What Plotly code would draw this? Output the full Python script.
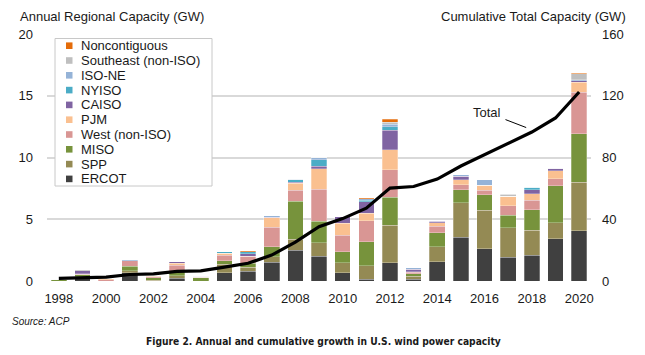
import plotly.graph_objects as go

years = list(range(1998, 2021))

regions = ["ERCOT", "SPP", "MISO", "West (non-ISO)", "PJM", "CAISO", "NYISO",
           "ISO-NE", "Southeast (non-ISO)", "Noncontiguous"]

ercot = [0, 0.30, 0, 0.68, 0, 0.22, 0, 0.67, 0.80, 1.53, 2.50, 2.00, 0.65, 0.16, 1.48, 0.13, 1.56, 3.55, 2.61, 1.94, 2.10, 3.44, 4.08]
spp = [0, 0.05, 0, 0.15, 0.05, 0.19, 0, 0.67, 0.30, 0.44, 0.89, 1.08, 0.84, 1.07, 3.03, 0.27, 1.21, 2.77, 3.11, 2.37, 1.99, 1.26, 3.90]
miso = [0.10, 0.15, 0, 0.38, 0.20, 0.40, 0.25, 0.32, 0.32, 0.82, 3.06, 1.75, 0.86, 1.96, 2.26, 0.20, 1.13, 1.08, 1.26, 1.02, 1.69, 3.03, 3.95]
west = [0.05, 0.05, 0.10, 0.45, 0.10, 0.48, 0.05, 0.43, 0.60, 1.58, 0.88, 2.58, 1.36, 1.69, 2.23, 0.10, 0.54, 0.40, 0.35, 0.78, 0.75, 0.54, 3.36]
pjm = [0, 0.05, 0.07, 0, 0.05, 0.13, 0, 0.16, 0, 0.75, 0.60, 1.69, 0.95, 0.59, 1.61, 0.05, 0.27, 0.40, 0.43, 0.75, 0.54, 0.67, 0.81]
caiso = [0, 0.25, 0, 0, 0.03, 0.13, 0.08, 0, 0.19, 0.05, 0.05, 0.19, 0.54, 0.94, 1.61, 0.20, 0.13, 0.27, 0, 0, 0.33, 0.19, 0.10]
nyiso = [0, 0, 0, 0, 0, 0, 0, 0.13, 0.16, 0, 0.22, 0.54, 0, 0.13, 0.27, 0, 0, 0, 0, 0, 0.20, 0, 0]
isone = [0, 0, 0, 0.06, 0, 0, 0, 0, 0, 0.10, 0.05, 0.13, 0, 0.13, 0.20, 0.13, 0.05, 0.13, 0.43, 0, 0, 0, 0.10]
southeast = [0, 0.05, 0, 0, 0, 0, 0, 0, 0, 0, 0, 0, 0, 0, 0.15, 0, 0, 0, 0, 0.15, 0, 0, 0.48]
noncontig = [0, 0, 0, 0, 0, 0, 0, 0, 0.08, 0, 0, 0, 0, 0.08, 0.27, 0, 0, 0, 0, 0, 0, 0, 0.05]

cumulative = [1.7, 2.3, 2.5, 4.2, 4.6, 6.2, 6.6, 9.0, 11.5, 16.8, 25.2, 35.2, 40.4, 47.2, 60.2,
              61.2, 66.0, 74.5, 82.0, 89.0, 96.5, 105.6, 122.4]

series = [ercot, spp, miso, west, pjm, caiso, nyiso, isone, southeast, noncontig]
colors = ["#404040", "#948a54", "#77933c", "#d99694", "#fac090", "#8064a2",
          "#4bacc6", "#95b3d7", "#bfbfbf", "#e46c0a"]

left_ticks = [0, 5, 10, 15, 20]
right_ticks = [0, 40, 80, 120, 160]
x_ticks = list(range(1998, 2021, 2))

FONT = "Liberation Sans, Arial, sans-serif"
TXT = "#1a1a1a"

fig = go.Figure()
for name, vals, col in zip(regions, series, colors):
    fig.add_trace(go.Bar(x=years, y=vals, name=name, width=0.66,
                         marker=dict(color=col, line=dict(color="rgba(255,255,255,0.45)", width=0.6)),
                         showlegend=False))

fig.add_trace(go.Scatter(x=years, y=cumulative, yaxis="y2", mode="lines", name="Total",
                         line=dict(color="black", width=3.2), showlegend=False))

# page pixel geometry (the page body has an 8px margin)
OFF = 8
W, H = 645 - OFF, 355 - OFF
PL, PR, PT, PB = 47, 591, 34, 281


def xp(px):
    return (px - PL) / (PR - PL)


def yp(py):
    return (PB - py) / (PB - PT)


shapes = []
annotations = []

# Manual legend (top-to-bottom order)
shapes.append(dict(type="rect", xref="paper", yref="paper", x0=xp(55), x1=xp(212),
                   y0=yp(186), y1=yp(38.5), fillcolor="white",
                   line=dict(color="#c8c8c8", width=1), layer="above"))
leg_names = regions[::-1]
leg_cols = colors[::-1]
for i, (nm, col) in enumerate(zip(leg_names, leg_cols)):
    yc = 45.7 + i * 14.8
    shapes.append(dict(type="rect", xref="paper", yref="paper", x0=xp(66), x1=xp(72.5),
                       y0=yp(yc + 3.3), y1=yp(yc - 3.3), fillcolor=col, line=dict(width=0),
                       layer="above"))
    annotations.append(dict(xref="paper", yref="paper", x=xp(78.5), y=yp(yc), text=nm,
                            showarrow=False, xanchor="left", yanchor="middle",
                            font=dict(size=13, color=TXT, family=FONT)))

annotations += [
    dict(xref="paper", yref="paper", x=xp(18), y=yp(17), text="Annual Regional Capacity (GW)",
         showarrow=False, xanchor="left", yanchor="middle", font=dict(size=13, color=TXT, family=FONT)),
    dict(xref="paper", yref="paper", x=xp(628), y=yp(17), text="Cumulative Total Capacity (GW)",
         showarrow=False, xanchor="right", yanchor="middle", font=dict(size=13, color=TXT, family=FONT)),
    dict(xref="paper", yref="paper", x=xp(10), y=yp(321), text="<i>Source: ACP</i>",
         showarrow=False, xanchor="left", yanchor="middle", font=dict(size=10, color=TXT, family=FONT)),
    dict(xref="paper", yref="paper", x=xp(323), y=yp(341),
         text="<b>Figure 2. Annual and cumulative growth in U.S. wind power capacity</b>",
         showarrow=False, xanchor="center", yanchor="middle",
         font=dict(size=10.2, color=TXT, family="Liberation Sans Narrow, DejaVu Sans Condensed, Arial Narrow, sans-serif")),
    dict(x=2017.76, y=99.4, xref="x", yref="y2", text="Total", showarrow=True, arrowhead=0,
         arrowwidth=1, arrowcolor="black", ax=-39, ay=-15, startstandoff=3,
         font=dict(size=13, color=TXT, family=FONT)),
]

fig.update_layout(
    width=W, height=H,
    margin=dict(l=PL - OFF, r=W - (PR - OFF), t=PT - OFF, b=H - (PB - OFF), pad=0),
    paper_bgcolor="white", plot_bgcolor="white",
    barmode="stack", bargap=0.34,
    font=dict(family=FONT, size=13, color=TXT),
    xaxis=dict(range=[1997.5, 2020.5], tickvals=x_ticks, ticktext=[str(v) for v in x_ticks],
               showgrid=False, zeroline=False, showline=False, ticks="",
               tickfont=dict(size=13, color=TXT), ticklabelstandoff=8),
    yaxis=dict(range=[0, 20], tickvals=left_ticks, showgrid=True, gridcolor="#d9d9d9",
               gridwidth=1.6, zeroline=False, showline=False, ticks="",
               tickfont=dict(size=13, color=TXT), ticklabelstandoff=13),
    yaxis2=dict(range=[0, 160], tickvals=right_ticks, overlaying="y", side="right",
                showgrid=False, zeroline=False, showline=False, ticks="",
                tickfont=dict(size=13, color=TXT), ticklabelstandoff=10),
    shapes=shapes, annotations=annotations,
)

fig.write_html("out.html")
